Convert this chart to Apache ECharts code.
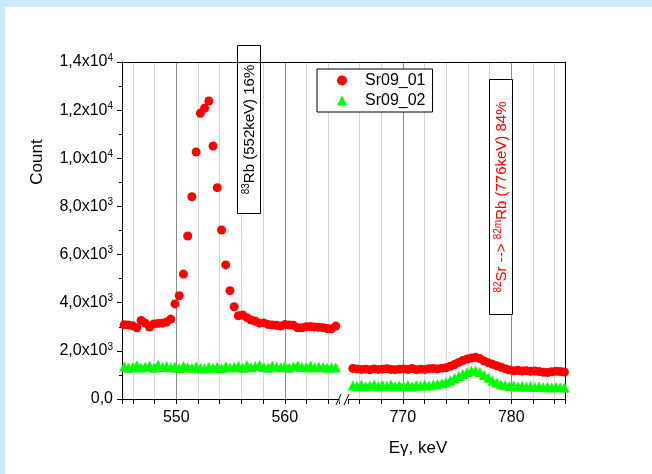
<!DOCTYPE html>
<html><head><meta charset="utf-8">
<script src="https://cdn.jsdelivr.net/npm/echarts@6/dist/echarts.min.js"></script>
<style>html,body{margin:0;padding:0;background:#fff}#c{width:652px;height:474px}</style>
</head><body><div id="c"></div>
<script>
const FONT = "'Liberation Sans', Arial, sans-serif";

// channel energies (keV) of the two displayed windows
const leftEnergy = [545.20,545.59,545.98,546.37,546.76,547.15,547.54,547.93,548.32,548.71,549.10,549.49,549.88,550.27,550.66,551.05,551.44,551.83,552.22,552.61,553.00,553.39,553.78,554.17,554.56,554.95,555.34,555.73,556.12,556.51,556.90,557.29,557.68,558.07,558.46,558.85,559.24,559.63,560.02,560.41,560.80,561.19,561.58,561.97,562.36,562.75,563.14,563.53,563.92,564.31,564.70];
const rightEnergy = [765.40,765.79,766.18,766.57,766.96,767.35,767.74,768.13,768.52,768.91,769.30,769.69,770.08,770.47,770.86,771.25,771.64,772.03,772.42,772.81,773.20,773.59,773.98,774.37,774.76,775.15,775.54,775.93,776.32,776.71,777.10,777.49,777.88,778.27,778.66,779.05,779.44,779.83,780.22,780.61,781.00,781.39,781.78,782.17,782.56,782.95,783.34,783.73,784.12,784.51,784.90];

// counts, Sr09_01 (red circles)
const sr01Left = [3080,3070,3040,2960,3260,3150,2990,3120,3140,3150,3200,3320,3950,4290,5190,6770,8400,10260,11870,12080,12380,10510,8780,7020,5570,4500,3830,3460,3490,3380,3280,3230,3150,3160,3100,3070,3060,3030,3090,3070,3060,2960,2960,3000,3010,2990,2980,2960,2930,2920,3030];
const sr01Right = [1270,1250,1230,1240,1220,1250,1230,1240,1260,1230,1220,1240,1250,1230,1270,1220,1240,1230,1260,1270,1250,1280,1300,1360,1430,1520,1600,1660,1700,1730,1680,1580,1510,1440,1380,1320,1260,1200,1170,1190,1160,1170,1150,1160,1140,1110,1100,1130,1150,1140,1120];
// counts, Sr09_02 (green triangles)
const sr02Left = [1350,1300,1320,1400,1310,1340,1380,1300,1420,1330,1360,1310,1340,1290,1370,1320,1300,1350,1290,1280,1330,1300,1340,1280,1360,1310,1330,1370,1300,1400,1320,1360,1410,1330,1300,1380,1340,1320,1370,1300,1350,1390,1330,1320,1380,1310,1340,1330,1300,1320,1310];
const sr02Right = [560,540,590,530,560,600,530,570,550,590,530,560,540,580,530,570,550,590,560,600,620,650,700,780,860,950,1040,1110,1170,1180,1120,1000,880,760,670,600,570,540,560,520,540,510,530,500,520,490,510,480,500,490,480];

const seriesNames = ['Sr09_01', 'Sr09_02'];
const xLeftRange = [545, 565];
const xRightRange = [765, 785];
const yTicks = [0, 2000, 4000, 6000, 8000, 10000, 12000, 14000];
const yTickLabels = ['0,0', '2,0x10{s|3}', '4,0x10{s|3}', '6,0x10{s|3}', '8,0x10{s|3}', '1,0x10{s|4}', '1,2x10{s|4}', '1,4x10{s|4}'];

const zip = (xs, ys) => xs.map((x, i) => [x, ys[i]]);

function xAxisCfg(gi, range) {
  return {
    type: 'value', gridIndex: gi, min: range[0], max: range[1], splitNumber: 10, position: 'bottom',
    axisLine: { show: true, onZero: false, lineStyle: { color: '#000', width: 1 } },
    axisTick: { show: true, inside: false, length: 5, lineStyle: { color: '#000' } },
    axisLabel: { fontSize: 16, color: '#000', fontFamily: FONT, margin: 11,
      formatter: v => (Math.abs(v % 10) < 1e-6 ? String(v) : '') },
    splitLine: { show: true, showMinLine: false, showMaxLine: false, lineStyle: { color: '#d4d4d4', width: 1 } }
  };
}
// second x axis per grid: only its darker grid lines at the labelled (10 keV) values
function xMajorCfg(gi, range) {
  return {
    type: 'value', gridIndex: gi, min: range[0], max: range[1], splitNumber: 2, position: 'top',
    axisLine: { show: false }, axisTick: { show: false }, axisLabel: { show: false },
    splitLine: { show: true, showMinLine: false, showMaxLine: false, lineStyle: { color: '#8c8c8c', width: 1 } }
  };
}
const sup = { fontSize: 10, lineHeight: 10, verticalAlign: 'top', fontFamily: FONT };

const chart = echarts.init(document.getElementById('c'), null, { renderer: 'canvas' });
chart.setOption({
  animation: false,
  backgroundColor: '#fff',
  grid: [
    { left: 122, top: 62, width: 217, height: 337 },
    { left: 348.5, top: 62, width: 217, height: 337 }
  ],
  xAxis: [xAxisCfg(0, xLeftRange), xAxisCfg(1, xRightRange), xMajorCfg(0, xLeftRange), xMajorCfg(1, xRightRange)],
  yAxis: [
    { type: 'value', gridIndex: 0, min: 0, max: 14000, interval: 2000,
      axisLine: { show: true, lineStyle: { color: '#000', width: 1 } },
      axisTick: { show: true, length: 5, lineStyle: { color: '#000' } },
      minorTick: { show: true, splitNumber: 2, length: 3, lineStyle: { color: '#000' } },
      splitLine: { show: false },
      axisLabel: { fontSize: 16, color: '#000', fontFamily: FONT, margin: 9, lineHeight: 18,
        formatter: v => yTickLabels[yTicks.indexOf(v)] || '', rich: { s: sup } } },
    { type: 'value', gridIndex: 1, min: 0, max: 14000, interval: 2000, position: 'right',
      axisLine: { show: true, lineStyle: { color: '#000', width: 1 } },
      axisTick: { show: false }, axisLabel: { show: false }, splitLine: { show: false } }
  ],
  legend: {
    left: 317, top: 69, orient: 'vertical', z: 10, borderColor: '#000', borderWidth: 1, borderRadius: 0,
    backgroundColor: '#fff', padding: [2, 7, 2, 20], itemGap: 1, itemWidth: 10, itemHeight: 10,
    textStyle: { fontSize: 16, color: '#000', fontFamily: FONT, lineHeight: 19, padding: [0, 0, 0, 13] },
    data: [{ name: seriesNames[0], icon: 'circle' }, { name: seriesNames[1], icon: 'triangle' }]
  },
  series: [
    { type: 'scatter', name: seriesNames[1], xAxisIndex: 0, yAxisIndex: 0, data: zip(leftEnergy, sr02Left),
      symbol: 'triangle', symbolSize: 10, itemStyle: { color: '#00ff00', opacity: 1 } },
    { type: 'scatter', name: seriesNames[1], xAxisIndex: 1, yAxisIndex: 1, data: zip(rightEnergy, sr02Right),
      symbol: 'triangle', symbolSize: 10, itemStyle: { color: '#00ff00', opacity: 1 } },
    { type: 'scatter', name: seriesNames[0], xAxisIndex: 0, yAxisIndex: 0, data: zip(leftEnergy, sr01Left),
      symbol: 'circle', symbolSize: 9, itemStyle: { color: '#ff0000', opacity: 1 } },
    { type: 'scatter', name: seriesNames[0], xAxisIndex: 1, yAxisIndex: 1, data: zip(rightEnergy, sr01Right),
      symbol: 'circle', symbolSize: 9, itemStyle: { color: '#ff0000', opacity: 1 } }
  ],
  graphic: [
    { type: 'rect', silent: true, z: 100, shape: { x: 0, y: 0, width: 652, height: 7 }, style: { fill: '#cde9fc' } },
    { type: 'rect', silent: true, z: 100, shape: { x: 0, y: 0, width: 5, height: 474 }, style: { fill: '#cde9fc' } },
    // top frame line
    { type: 'line', silent: true, z: 50, shape: { x1: 122, y1: 62.5, x2: 566, y2: 62.5 }, style: { stroke: '#000', lineWidth: 1 } },
    // break marks
    { type: 'rect', silent: true, z: 50, shape: { x: 339.5, y: 396, width: 8.5, height: 6 }, style: { fill: '#fff' } },
    { type: 'line', silent: true, z: 51, shape: { x1: 336, y1: 405, x2: 341, y2: 394 }, style: { stroke: '#000', lineWidth: 1 } },
    { type: 'line', silent: true, z: 51, shape: { x1: 344, y1: 405, x2: 349, y2: 394 }, style: { stroke: '#000', lineWidth: 1 } },
    // axis titles
    { type: 'text', silent: true, z: 50, x: 37, y: 162, rotation: Math.PI / 2,
      style: { text: 'Count', fontSize: 17, fontFamily: FONT, fill: '#000', align: 'center', verticalAlign: 'middle' } },
    { type: 'text', silent: true, z: 50, x: 418, y: 448,
      style: { text: 'Eγ, keV', fontSize: 17, fontFamily: FONT, fill: '#000', align: 'center', verticalAlign: 'middle' } },
    // annotation boxes
    { type: 'rect', silent: true, z: 40, shape: { x: 237.5, y: 45.5, width: 23, height: 168 }, style: { fill: '#fff', stroke: '#000', lineWidth: 1 } },
    { type: 'text', silent: true, z: 41, x: 250, y: 129.5, rotation: Math.PI / 2,
      style: { text: '{s|83}Rb (552keV) 16%', fontSize: 15, fontFamily: FONT, fill: '#000', lineHeight: 18,
        align: 'center', verticalAlign: 'middle', rich: { s: sup } } },
    { type: 'rect', silent: true, z: 40, shape: { x: 489.5, y: 79.5, width: 23, height: 235 }, style: { fill: '#fff', stroke: '#000', lineWidth: 1 } },
    { type: 'text', silent: true, z: 41, x: 502, y: 197, rotation: Math.PI / 2,
      style: { text: '{s|82}Sr --> {s|82m}Rb (776keV) 84%', fontSize: 15, fontFamily: FONT, fill: '#ff0000', lineHeight: 18,
        align: 'center', verticalAlign: 'middle', rich: { s: sup } } }
  ]
});
</script></body></html>
